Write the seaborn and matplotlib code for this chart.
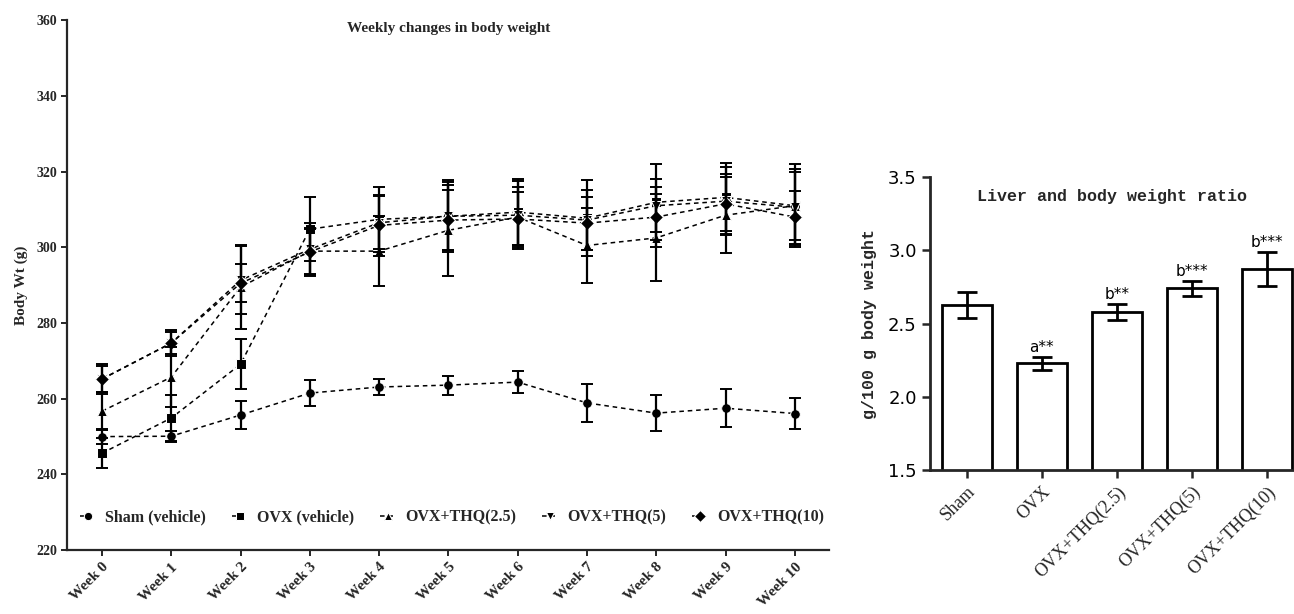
import numpy as np
import pandas as pd
import seaborn as sns
import matplotlib
matplotlib.use("Agg")
import matplotlib.pyplot as plt

# weekly body weight data (mean and SEM, g)
weeks = ["Week 0", "Week 1", "Week 2", "Week 3", "Week 4", "Week 5",
         "Week 6", "Week 7", "Week 8", "Week 9", "Week 10"]
groups = ["Sham (vehicle)", "OVX (vehicle)", "OVX+THQ(2.5)", "OVX+THQ(5)", "OVX+THQ(10)"]
markers = ["o", "s", "^", "v", "D"]

sham = [250.0, 250.1, 255.7, 261.5, 263.1, 263.6, 264.4, 258.9, 256.2, 257.5, 256.1]
ovx = [245.6, 254.9, 269.1, 304.8, 307.4, 308.2, 309.3, 307.7, 311.9, 313.2, 311.0]
thq25 = [256.7, 265.7, 289.5, 299.0, 299.0, 304.5, 308.0, 300.5, 302.5, 308.5, 311.0]
thq5 = [265.2, 274.7, 291.3, 299.5, 306.5, 308.2, 308.5, 307.2, 311.0, 312.2, 310.6]
thq10 = [265.2, 274.7, 290.5, 298.8, 305.8, 307.2, 307.5, 306.4, 308.0, 311.5, 308.0]

sham_err = [2.0, 1.5, 3.6, 3.5, 2.1, 2.5, 2.8, 5.0, 4.7, 5.0, 4.0]
ovx_err = [4.0, 6.0, 6.6, 8.5, 8.5, 9.5, 8.7, 10.0, 10.0, 9.0, 11.0]
thq25_err = [5.0, 8.0, 11.0, 6.0, 9.3, 12.0, 8.0, 10.0, 11.5, 10.0, 9.0]
thq5_err = [3.5, 3.0, 9.0, 7.0, 7.0, 9.0, 9.0, 8.0, 7.0, 9.0, 10.0]
thq10_err = [4.0, 3.5, 5.0, 6.0, 8.0, 8.0, 7.0, 7.0, 8.0, 8.0, 7.0]

# liver / body weight ratio
bar_groups = ["Sham", "OVX", "OVX+THQ(2.5)", "OVX+THQ(5)", "OVX+THQ(10)"]
ratio = [2.626, 2.228, 2.58, 2.74, 2.87]
ratio_err = [0.09, 0.045, 0.055, 0.05, 0.115]
ratio_marks = ["", "a**", "b**", "b***", "b***"]

sns.set_style("ticks")
plt.rcParams["font.family"] = ["Liberation Serif", "DejaVu Sans"]

fig = plt.figure(figsize=(12.94, 6.14), dpi=100)
ax1 = fig.add_axes([0.052, 0.104, 0.589, 0.863])
ax2 = fig.add_axes([0.7187, 0.2345, 0.2813, 0.4772])

# ---- left: weekly changes ----
series = [sham, ovx, thq25, thq5, thq10]
errs = [sham_err, ovx_err, thq25_err, thq5_err, thq10_err]
rows = []
for g, vals in zip(groups, series):
    for i, v in enumerate(vals):
        rows.append({"group": g, "week": i, "wt": v})
df = pd.DataFrame(rows)

sns.lineplot(data=df, x="week", y="wt", hue="group", style="group",
             markers=dict(zip(groups, markers)), dashes=False,
             palette=["black"] * 5, markersize=7, linewidth=1.1,
             ax=ax1, legend=True)
for line in ax1.lines:
    line.set_linestyle((0, (3, 2.5)))
x = np.arange(len(weeks))
for vals, e in zip(series, errs):
    ax1.errorbar(x, vals, yerr=e, fmt="none", ecolor="black", elinewidth=1.6,
                 capsize=4, capthick=1.4)

ax1.set_xlim(-0.5, 10.5)
ax1.set_ylim(220, 360)
ax1.set_yticks(np.arange(220, 361, 20))
ax1.set_xticks(x)
ax1.set_xticklabels(weeks, rotation=45, ha="right", rotation_mode="anchor",
                    fontsize=11, fontweight="bold")
for t in ax1.get_yticklabels():
    t.set_fontsize(10)
    t.set_fontweight("bold")
ax1.set_xlabel("")
ax1.set_ylabel("Body Wt (g)", fontsize=11, fontweight="bold", labelpad=6)
ax1.text(0.5, 0.985, "Weekly changes in body weight", transform=ax1.transAxes,
         ha="center", va="center", fontsize=11, fontweight="bold")
sns.despine(ax=ax1)
for sp in ["left", "bottom"]:
    ax1.spines[sp].set_linewidth(1.6)
ax1.tick_params(width=1.4, length=4)

handles, labels = ax1.get_legend_handles_labels()
for h in handles:
    h.set_markersize(6)
ax1.legend(handles, labels, loc="lower center", bbox_to_anchor=(0.505, 0.02),
           ncol=5, frameon=False, handlelength=1.0, handletextpad=0.6,
           columnspacing=1.6,
           prop={"family": "Liberation Serif", "weight": "bold", "size": 11.5})

# ---- right: liver ratio ----
bdf = pd.DataFrame({"group": bar_groups, "ratio": ratio})
sns.barplot(data=bdf, x="group", y="ratio", color="white", edgecolor="black",
            linewidth=2, width=0.667, errorbar=None, ax=ax2)
bx = np.arange(len(bar_groups))
ax2.errorbar(bx, ratio, yerr=ratio_err, fmt="none", ecolor="black",
             elinewidth=2, capsize=7, capthick=2)
for i, m in enumerate(ratio_marks):
    if m:
        ax2.text(i, ratio[i] + ratio_err[i] + 0.015, m, ha="center", va="bottom",
                 fontsize=11, family="DejaVu Sans", color="black")

ax2.set_ylim(1.5, 3.5)
ax2.set_xlim(-0.49, 4.36)
ax2.set_yticks([1.5, 2.0, 2.5, 3.0, 3.5])
ax2.set_yticklabels(["1.5", "2.0", "2.5", "3.0", "3.5"], fontsize=13,
                    family="DejaVu Sans", color="black")
ax2.set_xticks(bx)
ax2.set_xticklabels(bar_groups, rotation=45, ha="right", rotation_mode="anchor",
                    fontsize=13, family="Liberation Serif")
ax2.set_xlabel("")
ax2.set_ylabel("g/100 g body weight", fontsize=12, fontweight="bold",
               family="Liberation Mono", labelpad=8)
ax2.text(0.5, 0.96, "Liver and body weight ratio", transform=ax2.transAxes,
         ha="center", va="top", fontsize=12, fontweight="bold",
         family="Liberation Mono")
sns.despine(ax=ax2)
for sp in ["left", "bottom"]:
    ax2.spines[sp].set_linewidth(2)
ax2.tick_params(width=1.8, length=6)

fig.savefig("out.png", dpi=100)
